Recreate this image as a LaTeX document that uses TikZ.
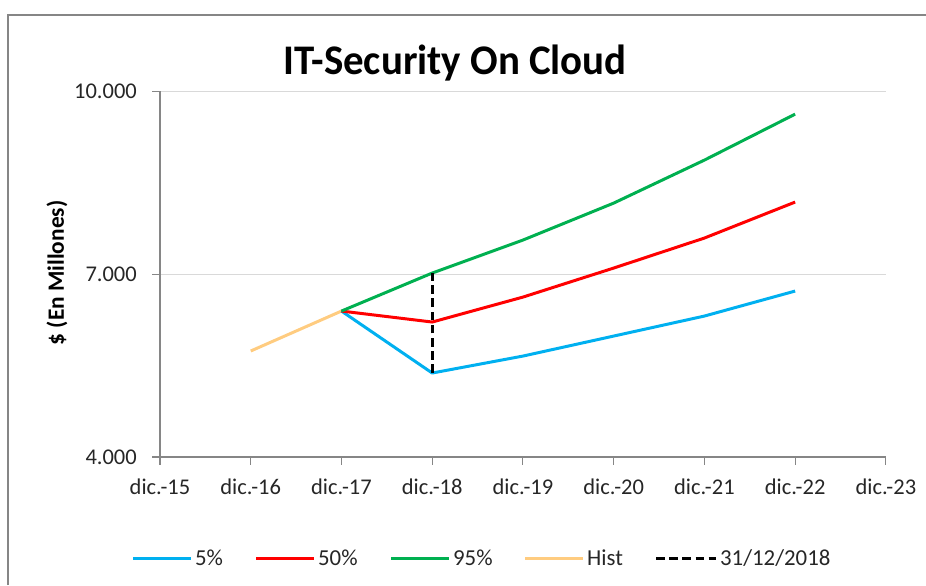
\documentclass[tikz,border=0pt]{standalone}
\usepackage{fontspec}
\setmainfont{Carlito}
\definecolor{lowc}{HTML}{00B0F0}
\definecolor{midc}{HTML}{FF0000}
\definecolor{highc}{HTML}{00B050}
\definecolor{histc}{HTML}{FFCC80}
\definecolor{axisc}{HTML}{868686}
\definecolor{gridc}{HTML}{D9D9D9}
\tikzset{
  series/.style={line width=1.7pt,line join=round},
  ticklabel/.style={font=\fontsize{12.8}{14}\selectfont,text=black!85}
}
\begin{document}
\begin{tikzpicture}[x=0.02cm,y=-0.02cm]
    \useasboundingbox (0,0) rectangle (926,585);
    \draw[color=axisc,line width=0.8pt] (8,585)--(8,15)--(926,15);
    \node[font=\bfseries\fontsize{24}{28}\selectfont,anchor=base,xscale=0.97] (title) at (455,74) {IT-Security On Cloud};
    \node[font=\bfseries\fontsize{13.3}{15}\selectfont,rotate=90] (ylabel) at (57,273) {\$ (En Millones)};
    % chart area, x in years from dic.-15, y in thousands
    \begin{scope}[shift={(160,457)},x=1.815cm,y=1.22cm,yshift=-4.88cm]
    \draw[color=gridc,line width=0.6pt] (0,7)--(8,7);
    \draw[color=gridc,line width=0.6pt] (0,10)--(8,10);
    \draw[color=axisc,line width=0.6pt] (0,10)--(0,4)--(8,4);
    \foreach \v/\t in {4/4.000,7/7.000,10/10.000}{
    \draw[color=axisc,line width=0.6pt] (0,\v)--++(-0.16cm,0);
    \node[ticklabel,anchor=east] (y\v) at ([xshift=-0.34cm]0,\v) {\t};}
    \foreach \n [evaluate=\n as \yr using int(15+\n)] in {0,...,8}{
    \draw[color=axisc,line width=0.6pt] (\n,4)--++(0,-0.16cm);
    \node[ticklabel] (x\n) at ([yshift=-0.6cm]\n,4) {dic.-\yr};}
    \draw[series,color=histc] plot coordinates{(1,5.738) (2,6.393)};
    \draw[series,color=lowc] plot coordinates{(2,6.393) (3,5.377) (4,5.655) (5,5.983) (6,6.311) (7,6.721)};
    \draw[series,color=midc] plot coordinates{(2,6.393) (3,6.213) (4,6.622) (5,7.098) (6,7.590) (7,8.180)};
    \draw[series,color=highc] plot coordinates{(2,6.393) (3,7.016) (4,7.557) (5,8.163) (6,8.868) (7,9.622)};
    \draw[line width=1.7pt,dash pattern=on 5pt off 2.5pt] (3,5.377)--(3,7.016);
    \end{scope}
    % legend
    \foreach \xa/\col/\txt [count=\k] in {133/lowc/5\%,256/midc/50\%,391/highc/95\%,525/histc/Hist}{
    \draw[series,color=\col] (\xa,558)--++(58,0) node[right,ticklabel,font=\fontsize{13}{15}\selectfont,inner sep=1.5pt] (leg\k) {\txt};}
    \draw[line width=1.7pt,dash pattern=on 5pt off 2.5pt] (656,558)--++(60,0) node[right,ticklabel,font=\fontsize{13}{15}\selectfont,inner sep=1.5pt] (leg5) {31/12/2018};
\end{tikzpicture}
\end{document}
